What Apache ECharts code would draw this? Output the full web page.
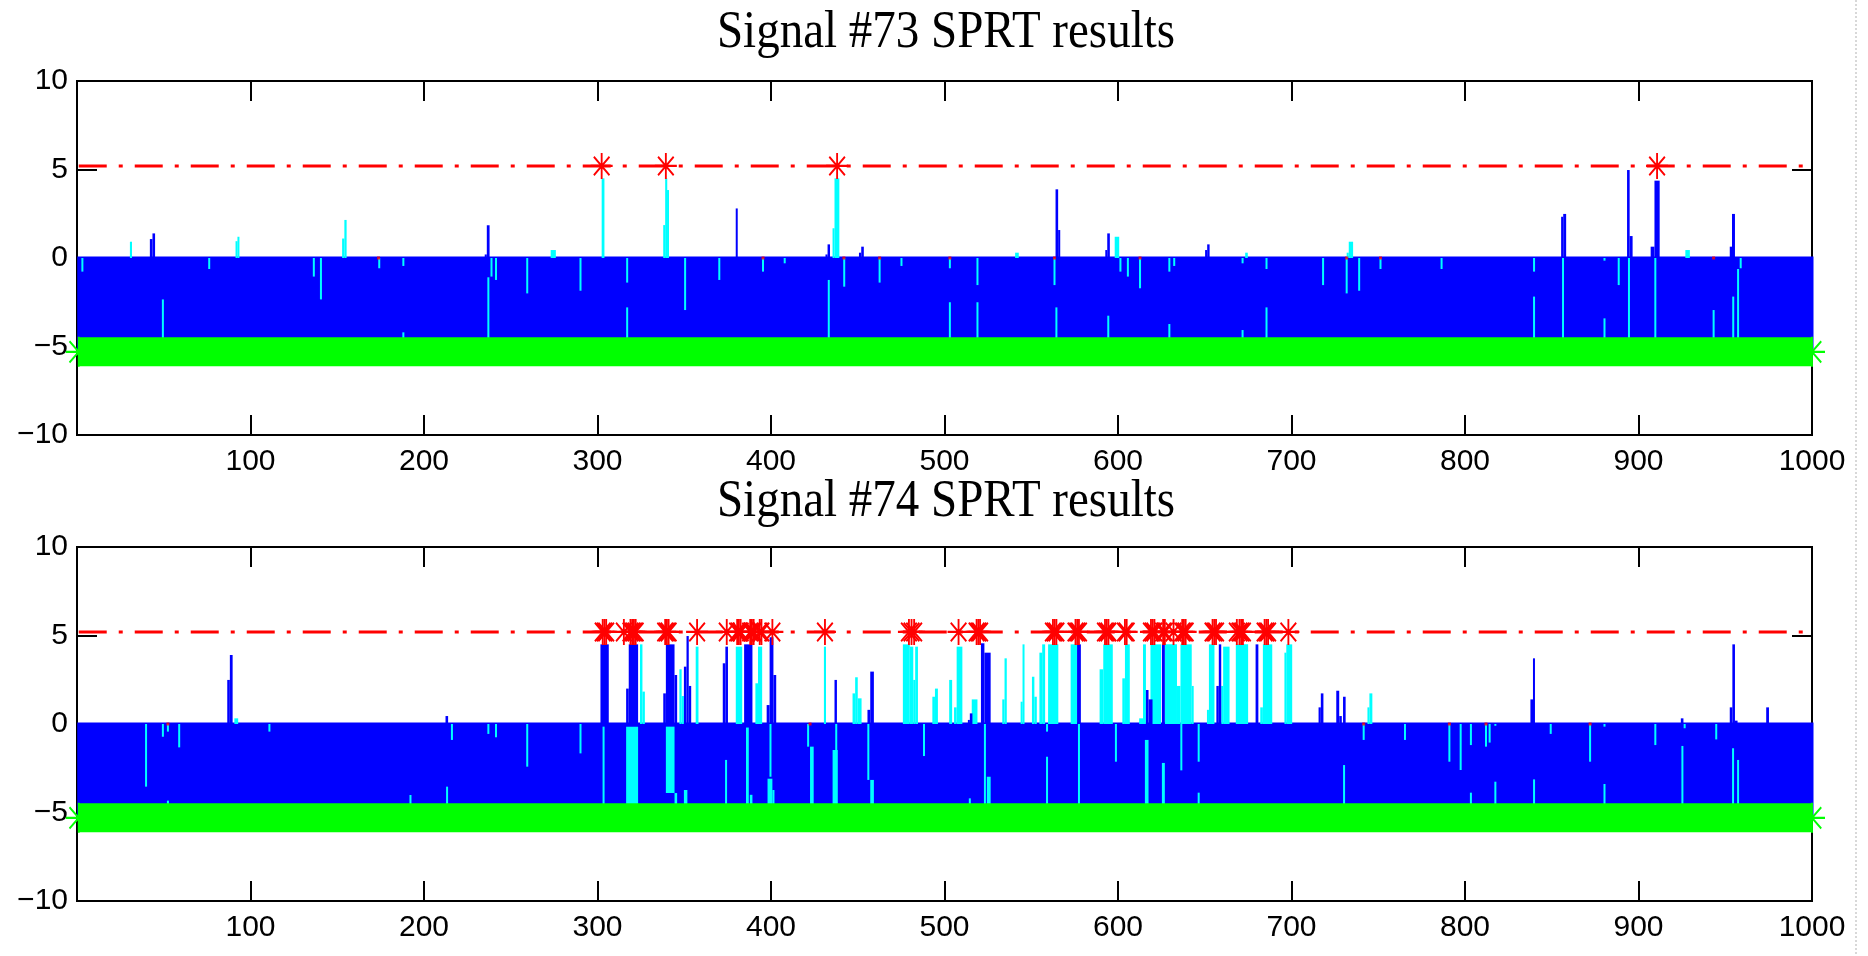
<!DOCTYPE html>
<html>
<head>
<meta charset="utf-8">
<script src="https://cdn.jsdelivr.net/npm/echarts@6/dist/echarts.min.js"></script>
<style>
  html, body { margin: 0; padding: 0; background: #fff; }
  #chart { width: 1868px; height: 956px; }
</style>
</head>
<body>
<div id="chart"></div>
<script>
// ---- SPRT decision boundaries and sample range ----
const upperThreshold = 5.2;
const lowerThreshold = -5.3;
const sampleRange = [1, 1000];
const xTickStep = 100;
const yTickStep = 5;
const panelTitles = ['Signal #73 SPRT results', 'Signal #74 SPRT results'];

// ---- Signal #73 ----
// excursions above zero: [fromSample, toSample, peak]
const sig73Cyan = [
  [30.5, 31.7, 0.92], [91.4, 92.5, 0.95], [92.5, 93.6, 1.2], [152.8, 154.1, 1.1], [154.1, 155.4, 2.15],
  [273, 276, 0.45], [302.4, 304, 4.5], [337.9, 339, 1.86], [339, 340.2, 4.5], [340.2, 341.1, 3.84],
  [435.5, 436.6, 1.68], [436.6, 439.4, 4.5], [540.7, 542.8, 0.3], [598.1, 600.7, 1.2],
  [673.3, 674.8, 0.3], [731.8, 733, 0.3], [733, 735.5, 0.92], [927, 929.6, 0.45]
];
const sig73Blue = [
  [42, 43.5, 1.07], [43.5, 45, 1.39], [235, 236.2, 0.2], [236.2, 237.8, 1.85], [379.7, 380.8, 2.8],
  [431.4, 432.6, 0.2], [432.6, 434, 0.77], [450.7, 452, 0.3], [452, 453.5, 0.64],
  [564, 565.5, 3.88], [565.5, 566.7, 1.58], [592.7, 593.8, 0.45], [593.8, 595.3, 1.39],
  [650.2, 651.4, 0.45], [651.4, 652.8, 0.77], [855.4, 856.6, 2.33], [856.6, 858.3, 2.49],
  [893.4, 894.9, 4.97], [894.9, 896.6, 1.24], [907, 909.2, 0.64], [909.2, 912.2, 4.37],
  [952.6, 953.9, 0.64], [953.9, 955.6, 2.49]
];
// cyan index inside the lower band: [sample, top, bottom] or [from, to, top, bottom]
const sig73CyanBand = [
  [3.1, 0, -0.77], [76.2, 0, -0.62], [136.5, 0, -1.05], [140.6, 0, -2.34], [174.2, 0, -0.58],
  [188.1, 0, -0.45], [238.9, 0, -1.05], [241.5, 0, -1.24], [259.5, 0, -2.0], [290.2, 0, -1.85],
  [317.1, 0, -1.39], [350.5, 0, -2.94], [370.2, 0, -1.24], [395.4, 0, -0.77], [407.9, 0, -0.3],
  [442.2, 0, -1.62], [462.6, 0, -1.39], [475.2, 0, -0.45], [503.1, 0, -0.58], [519, 0, -1.53],
  [563.4, 0, -1.53], [601.4, 0, -0.77], [605.7, 0, -1.05], [612.7, 0, -1.71], [629.6, 0, -0.77],
  [632.4, 0, -0.45], [671.8, 0, -0.3], [685.6, 0, -0.62], [718.2, 0, -1.53], [731.8, 0, -2.0],
  [739, 0, -1.85], [751.3, 0, -0.62], [786.5, 0, -0.62], [839.8, 0, -0.77], [880.4, 0, -0.15],
  [888.6, 0, -1.53], [958.9, 0, -0.58],
  [49.5, -2.34, -5.3], [188.1, -4.2, -5.3], [237.1, -1.09, -5.3], [317.1, -2.79, -5.3],
  [433.3, -1.24, -5.3], [503.1, -2.5, -5.3], [519, -2.5, -5.3], [564.5, -2.79, -5.3],
  [594.4, -3.26, -5.3], [629.6, -3.73, -5.3], [671.8, -4.07, -5.3], [685.6, -2.79, -5.3],
  [839.8, -2.18, -5.3], [856.5, 0, -5.3], [880.4, -3.41, -5.3], [894.5, 0, -5.3],
  [909.7, 0, -5.3], [943.3, -2.94, -5.3], [954.6, -2.18, -5.3], [957.4, -0.62, -5.3]
];
const sig73Alarms = [302.4, 339.4, 438.1, 910.7];
const sig73Flags = [173.8, 395.4, 442, 462.6, 503.1, 563.4, 612.7, 731.8, 751.3, 943.3];

// ---- Signal #74 ----
const sig74Cyan = [
  [90.7, 92.9, 0.32], [324.5, 325.9, 4.5], [325.9, 327.3, 1.83],
  [347.2, 348.5, 3.09], [348.5, 349.8, 1.58], [356.6, 358.2, 4.37], [379.7, 383.4, 4.37],
  [391, 392.5, 2.3], [392.5, 394.9, 4.37], [430.5, 431.7, 4.37],
  [447, 448.5, 1.73], [448.5, 450, 2.64], [450, 452.2, 1.45],
  [476, 480, 4.5], [480, 482, 4.37], [482, 483.1, 2.49], [483.1, 484.7, 4.37],
  [493, 494.5, 1.54], [494.5, 496.2, 2.0], [502.7, 504.4, 2.49], [505.5, 507, 0.94],
  [507, 510.3, 4.37], [515.7, 519, 1.39], [533.3, 534.6, 1.39], [534.6, 535.9, 3.71],
  [543.9, 545, 1.26], [545, 546.1, 4.5], [550.4, 551.8, 2.67], [551.8, 553.2, 1.54],
  [554.7, 556.3, 4.03], [556.3, 558, 4.5], [559.7, 565.6, 4.5], [572.7, 576.4, 4.5],
  [589.4, 591.5, 3.09], [591.5, 597, 4.5], [602.5, 604, 2.58], [604, 606.8, 4.5],
  [612.2, 614.4, 0.32], [614.4, 616.1, 4.5], [618.7, 624.8, 4.5],
  [627, 634, 4.5], [634, 636, 2.15], [636, 642.5, 4.5], [642.5, 643.6, 2.15],
  [651.3, 652.4, 0.8], [652.4, 655.6, 4.5], [659.5, 660.6, 2.15], [660.6, 664.3, 4.37],
  [667.9, 675, 4.5], [682, 683.5, 0.94], [683.5, 688.9, 4.5], [696, 697, 4.03], [697, 700.4, 4.5],
  [743.8, 744.9, 0.94], [744.9, 746.6, 1.73]
];
const sig74Blue = [
  [86.6, 88.1, 2.49], [88.1, 89.7, 3.9], [212.4, 213.9, 0.45],
  [301.7, 306.5, 4.5], [316.5, 318, 2.0], [318, 323.4, 4.5],
  [337.9, 339.4, 1.73], [339.4, 344.4, 4.5], [344.4, 345.9, 2.77],
  [349.8, 351.3, 3.24], [351.3, 352.6, 4.97], [352.6, 354, 2.15],
  [372.2, 373.7, 3.43], [373.7, 375.2, 4.37], [384.5, 389.3, 4.5],
  [397.5, 399.2, 1.07], [399.2, 401.4, 4.9], [401.4, 403, 2.77],
  [436.6, 438, 2.49], [455.6, 457.2, 0.8], [457.2, 459.3, 2.96],
  [513.5, 514.6, 0.23], [514.6, 516.1, 0.6], [521, 523, 4.56], [523, 526.6, 4.03],
  [576.4, 578.6, 4.5], [616.1, 617.6, 1.92], [617.6, 619.9, 1.39], [625.3, 627, 4.5],
  [656.7, 658.1, 2.15], [658.1, 659.5, 4.5], [679.3, 680.9, 4.5],
  [715.6, 716.9, 0.94], [716.9, 718.4, 1.73], [725.8, 727.5, 1.88], [727.5, 729, 0.45],
  [729.7, 731.2, 1.54], [837.7, 839.2, 1.39], [839.2, 840.3, 3.71], [924.4, 925.9, 0.32],
  [952.6, 954.1, 0.94], [954.1, 955.6, 4.5], [955.6, 957.1, 0.19], [973.6, 975.2, 0.94]
];
const sig74CyanBand = [
  [39.8, 0, -3.54], [49.5, 0, -0.72], [52.4, 0, -0.43], [58.9, 0, -1.32], [110.9, 0, -0.43],
  [216.1, 0, -0.9], [237.1, 0, -0.56], [241.5, 0, -0.75], [259.5, 0, -2.41], [290.2, 0, -1.66],
  [52.4, -4.33, -5.3], [192.2, -4.01, -5.3], [213.3, -3.54, -5.3],
  [303.5, -0.15, -5.3], [316.5, 323.4, -0.15, -5.3],
  [339.4, 344.4, -0.15, -3.9], [344.4, 345.9, -3.9, -5.3],
  [349.8, 351.8, -3.73, -5.3], [374.1, -2.03, -5.3],
  [385.6, 387.2, -0.2, -5.3], [387.8, 389.3, -4.0, -5.3],
  [398, 400.8, -3.09, -5.3], [400.8, 402, -3.73, -5.3], [399.7, 0, -2.98],
  [421.4, 0, -1.28], [422.5, 424.6, -1.28, -5.3],
  [435.5, 438.5, -1.47, -5.3], [437.6, 0, -1.47],
  [457.2, 459.3, -3.16, -5.3], [456.1, 0, -3.16],
  [488.2, 0, -1.81], [514.6, -4.2, -5.3], [523.3, 0, -5.3], [524.4, 526.6, -2.98, -5.3],
  [559.1, 0, -0.43], [559.1, -1.85, -5.3], [577.5, 0, -5.3], [598.8, 0, -2.13],
  [615.5, 617.6, -0.9, -5.3], [625.3, 627, -2.2, -5.3], [636.5, 0, -2.62],
  [646.5, 0, -2.13], [646.5, -3.88, -5.3],
  [741.6, 0, -0.9], [765.4, 0, -0.9], [791, 0, -2.13], [797.5, 0, -2.6], [803.4, 0, -1.19],
  [812.1, 0, -1.28], [814.2, 0, -1.05], [817.5, 0, -0.1], [849.4, 0, -0.56], [872.1, 0, -2.13],
  [880.4, 0, -0.15], [909.7, 0, -1.19], [926.6, 0, -0.24], [944.8, 0, -0.87],
  [730.3, -2.32, -5.3], [803.4, -3.88, -5.3], [817.5, -3.26, -5.3], [839.8, -3.13, -5.3],
  [880.4, -3.39, -5.3], [925.3, -1.24, -5.3], [954.5, -1.37, -5.3], [957.4, -2.03, -5.3]
];
const sig74Alarms = [
  303, 304, 305, 315.2, 319, 320, 321, 322, 339, 340, 341, 357.4, 374.5,
  380.5, 381.5, 382.5, 388, 389, 390, 393.5, 394.5, 400.8, 431.1,
  479.5, 481, 482.5, 508.1, 518.5, 519.5, 520.5, 562.5, 563.5, 564.5,
  575.5, 576.5, 577.5, 592.5, 593.5, 594.5, 604, 605, 619, 620, 621, 626, 627,
  632, 637, 638, 639, 654.5, 655.5, 656.5, 668.5, 670, 671, 672,
  684.5, 685.5, 686.5, 698.2
];
const sig74Flags = [52.4, 422.5, 741.6, 791, 812.1, 872.1];

const panels = [
  { cyan: sig73Cyan, blue: sig73Blue, cyanBand: sig73CyanBand, alarms: sig73Alarms, flags: sig73Flags },
  { cyan: sig74Cyan, blue: sig74Blue, cyanBand: sig74CyanBand, alarms: sig74Alarms, flags: sig74Flags }
];

// ---- styling ----
const BLUE = '#0000ff', CYAN = '#00ffff', GREEN = '#00ff00', RED = '#ff0000';
const ASTERISK = 'path://M0,-10L0,10M-10,0L10,0M-7.1,-7.1L7.1,7.1M-7.1,7.1L7.1,-7.1';
const gridTops = [81, 547];
const titleY = [33, 502];
const axisFont = '"Liberation Sans", Arial, sans-serif';
const minus = v => String(v).replace('-', '\u2212');

// vertical segments in data space: [from, to, top, bottom]; the plotted
// trace has a finite line width, so each segment gets a thin matching outline
function segmentItem(color, outline) {
  return function (params, api) {
    const a = api.coord([api.value(0), api.value(2)]);
    const b = api.coord([api.value(1), api.value(3)]);
    let x = Math.min(a[0], b[0]);
    let w = Math.abs(b[0] - a[0]);
    if (w < 2) { x = (a[0] + b[0]) / 2 - 1; w = 2; }
    return {
      type: 'rect',
      shape: { x: x, y: Math.min(a[1], b[1]), width: w, height: Math.abs(b[1] - a[1]) },
      style: outline ? { fill: color, stroke: color, lineWidth: outline } : { fill: color }
    };
  };
}
const asBand = s => s.length === 3 ? [s[0], s[0], s[1], s[2]] : s;
const asSpike = s => [s[0], s[1], s[2], 0];

const grid = [], xAxis = [], yAxis = [], series = [];
panels.forEach((p, i) => {
  grid.push({ left: 77, right: 56, top: gridTops[i], height: 354, show: true, z: 0,
              borderColor: '#000', borderWidth: 2, backgroundColor: 'transparent' });
  const tick = { inside: true, length: 20, lineStyle: { color: '#000', width: 2 } };
  const hiddenLine = { show: false, onZero: false };
  xAxis.push({ gridIndex: i, type: 'value', min: 0, max: 1000, interval: xTickStep, position: 'bottom', z: 0,
    axisLine: hiddenLine, axisTick: tick, splitLine: { show: false },
    axisLabel: { fontSize: 30, fontFamily: axisFont, color: '#000', margin: 12,
                 formatter: v => (v === 0 ? '' : String(v)) } });
  xAxis.push({ gridIndex: i, type: 'value', min: 0, max: 1000, interval: xTickStep, position: 'top', z: 0,
    axisLine: hiddenLine, axisTick: tick, splitLine: { show: false }, axisLabel: { show: false } });
  yAxis.push({ gridIndex: i, type: 'value', min: -10, max: 10, interval: yTickStep, position: 'left', z: 0,
    axisLine: hiddenLine, axisTick: tick, splitLine: { show: false },
    axisLabel: { fontSize: 30, fontFamily: axisFont, color: '#000', margin: 9, formatter: minus } });
  yAxis.push({ gridIndex: i, type: 'value', min: -10, max: 10, interval: yTickStep, position: 'right', z: 0,
    axisLine: hiddenLine, axisTick: tick, splitLine: { show: false }, axisLabel: { show: false } });

  const xi = 2 * i, yi = 2 * i;
  const seg = (data, color, z, outline) => ({
    type: 'custom', xAxisIndex: xi, yAxisIndex: yi, z: z, silent: true,
    renderItem: segmentItem(color, outline), encode: { x: [0, 1], y: [2, 3] }, data: data
  });
  // SPRT index cycling between zero and the lower boundary
  series.push(seg([[sampleRange[0], sampleRange[1], 0, lowerThreshold]], BLUE, 10, 3));
  series.push(seg(p.cyanBand.map(asBand), CYAN, 11));
  series.push(seg(p.cyan.map(asSpike), CYAN, 11));
  series.push(seg(p.blue.map(asSpike), BLUE, 12));
  // lower-boundary decisions (one per sample)
  series.push({ type: 'line', xAxisIndex: xi, yAxisIndex: yi, z: 13, silent: true, clip: false,
    data: [[sampleRange[0], lowerThreshold], [sampleRange[1], lowerThreshold]],
    lineStyle: { color: GREEN, width: 29 }, symbol: ASTERISK, symbolSize: [26, 30], showSymbol: true,
    itemStyle: { color: 'rgba(0,0,0,0)', borderColor: GREEN, borderWidth: 2 } });
  // upper decision boundary
  series.push({ type: 'line', xAxisIndex: xi, yAxisIndex: yi, z: 14, silent: true, symbol: 'none',
    data: [[sampleRange[0], upperThreshold], [sampleRange[1], upperThreshold]],
    lineStyle: { color: RED, width: 3, type: [28, 12, 4, 12] } });
  // upper-boundary alarms
  series.push({ type: 'scatter', xAxisIndex: xi, yAxisIndex: yi, z: 15, silent: true,
    data: p.alarms.map(x => [x, upperThreshold]), symbol: ASTERISK, symbolSize: [22, 26],
    itemStyle: { color: 'rgba(0,0,0,0)', borderColor: RED, borderWidth: 2, opacity: 1 } });
  series.push({ type: 'scatter', xAxisIndex: xi, yAxisIndex: yi, z: 15, silent: true,
    data: p.flags.map(x => [x, 0]), symbol: 'rect', symbolSize: 3, itemStyle: { color: RED } });
});

const chart = echarts.init(document.getElementById('chart'), null, { renderer: 'canvas' });
chart.setOption({
  animation: false,
  backgroundColor: '#fff',
  grid: grid, xAxis: xAxis, yAxis: yAxis, series: series,
  graphic: panelTitles.map((t, i) => ({
    type: 'text', x: 946, y: titleY[i], scaleY: 1.12, z: 20,
    style: { text: t, font: '47px "Liberation Serif", "Times New Roman", serif', fill: '#000',
             align: 'center', verticalAlign: 'middle' }
  })).concat([{
    type: 'line', z: 20, shape: { x1: 1856, y1: 0, x2: 1856, y2: 956 },
    style: { stroke: '#d8d8d8', lineWidth: 2, lineDash: [2, 2] }
  }])
});
</script>
</body>
</html>
